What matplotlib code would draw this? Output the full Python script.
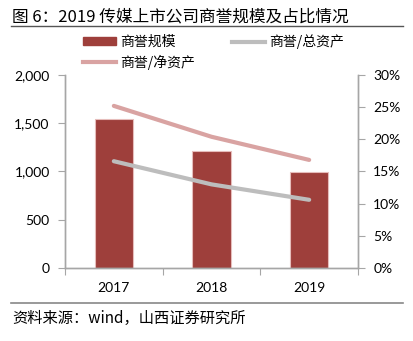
import matplotlib
matplotlib.use("Agg")
import matplotlib.pyplot as plt
from matplotlib.lines import Line2D
from matplotlib.patches import Patch
import numpy as np

plt.rcParams['font.family'] = ['Lato', 'Noto Sans CJK SC', 'DejaVu Sans']

years = ['2017', '2018', '2019']
goodwill = [1540, 1215, 990]
gw_total_assets = [16.6, 13.0, 10.6]
gw_net_assets = [25.2, 20.4, 16.8]
left_ticks = [0, 500, 1000, 1500, 2000]
right_ticks = [0, 5, 10, 15, 20, 25, 30]

bar_c = '#9E3F3B'
gray_c = '#BDBDBD'
pink_c = '#D9A3A2'
axis_c = '#A6A6A6'

fig = plt.figure(figsize=(4.13, 3.41), dpi=100)
ax = fig.add_axes([65/413, 1-268/341, (358-65)/413, (268-75)/341])
ax2 = ax.twinx()

x = np.arange(len(years))
ax.bar(x, goodwill, width=0.39, color=bar_c, edgecolor='#E6BDBB', linewidth=0.8, zorder=2)
ax.set_xlim(-0.5, 2.5)
ax.set_ylim(0, 2000)
ax.set_yticks(left_ticks)
ax.set_yticklabels([f'{v:,}' for v in left_ticks])

ax2.plot(x, gw_total_assets, color=gray_c, lw=3, solid_capstyle='round', zorder=3)
ax2.plot(x, gw_net_assets, color=pink_c, lw=3, solid_capstyle='round', zorder=3)
ax2.set_ylim(0, 30)
ax2.set_yticks(right_ticks)
ax2.set_yticklabels([f'{v}%' for v in right_ticks])
ax2.patch.set_visible(False)

# x ticks at boundaries, labels at centers
ax.set_xticks([-0.5, 0.5, 1.5, 2.5])
ax.set_xticklabels([])
ax.set_xticks(x, minor=True)
ax.set_xticklabels(years, minor=True)
ax.tick_params(axis='x', which='minor', length=0, pad=10, labelsize=10)
ax.tick_params(axis='x', which='major', length=5, color=axis_c, direction='out')

for a in (ax, ax2):
    a.spines['top'].set_visible(False)
    for s in ('left', 'right', 'bottom'):
        a.spines[s].set_color(axis_c)
        a.spines[s].set_linewidth(1.0)
ax.tick_params(axis='y', length=5, color=axis_c, labelsize=10, pad=6)
ax2.tick_params(axis='y', length=5, color=axis_c, labelsize=10, pad=6)

cjk = ['Noto Sans CJK SC', 'DejaVu Sans']
# title
fig.text(12/413, 1-17/341, '图 6：2019 传媒上市公司商誉规模及占比情况', fontsize=12,
         family=cjk, va='center', ha='left')
fig.add_artist(Line2D([11/413, 403/413], [1-26/341, 1-26/341], color='#555555', lw=1.0))

# legend (manual placement)
lp = {'family': cjk, 'size': 10}
fig.legend(handles=[Patch(facecolor=bar_c, edgecolor=bar_c)], labels=['商誉规模'],
           loc='center left', bbox_to_anchor=(70/413, 1-42/341), frameon=False,
           prop=lp, handlelength=2.4, handleheight=0.55, handletextpad=0.3)
fig.legend(handles=[Line2D([], [], color=gray_c, lw=3)], labels=['商誉/总资产'],
           loc='center left', bbox_to_anchor=(219/413, 1-42/341), frameon=False,
           prop=lp, handlelength=2.4, handletextpad=0.3)
fig.legend(handles=[Line2D([], [], color=pink_c, lw=3)], labels=['商誉/净资产'],
           loc='center left', bbox_to_anchor=(70/413, 1-62/341), frameon=False,
           prop=lp, handlelength=2.4, handletextpad=0.3)

# bottom line and source
fig.add_artist(Line2D([11/413, 403/413], [1-303/341, 1-303/341], color='#888888', lw=1.2))
fig.text(12/413, 1-318/341, '资料来源：wind，山西证券研究所', fontsize=11,
         family=cjk, va='center', ha='left')

fig.savefig('out.png', dpi=100)
